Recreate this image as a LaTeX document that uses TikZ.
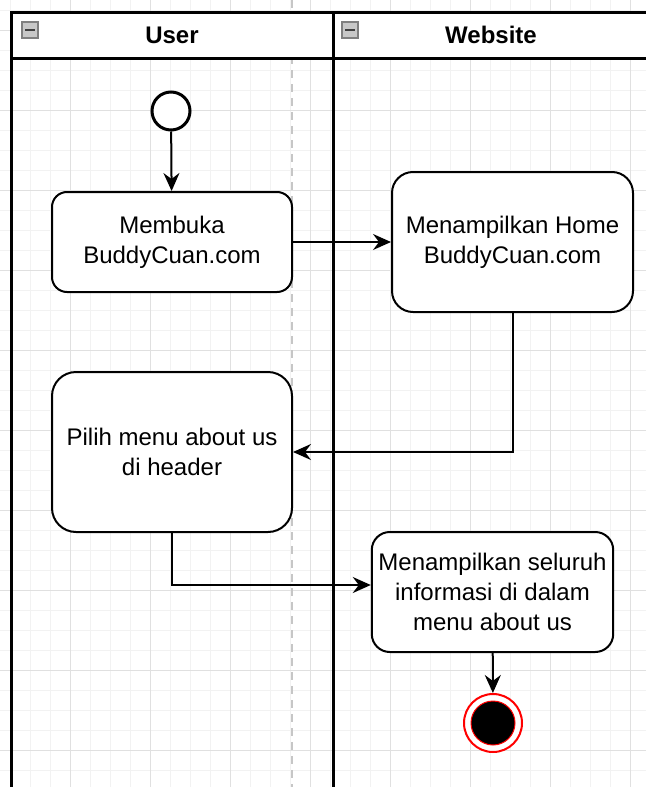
\documentclass[tikz,border=0pt]{standalone}
\usepackage{fontspec}
\setmainfont{Liberation Sans}
\usetikzlibrary{arrows.meta,shapes,positioning}

\definecolor{gridminor}{HTML}{F2F2F2}
\definecolor{gridmajor}{HTML}{E0E0E0}
\definecolor{minusgray}{HTML}{C8C8C8}

\begin{document}
\begin{tikzpicture}[x=0.5pt, y=-0.5pt, >={Stealth[length=9pt,width=8pt,inset=3pt]},
                    line width=1pt, font=\fontsize{12}{15}\selectfont]
  \tikzstyle{action}=[rectangle, draw=black, fill=white, text=black, align=center, line width=1pt]
  \tikzstyle{lane}=[draw=black, fill=white, line width=1.5pt]
  \tikzstyle{minus}=[rectangle, draw=gray, fill=minusgray, minimum size=8pt, inner sep=0pt]

	\clip (0,0) rectangle (646,787);

	% background grid
	\foreach \x in {10,30,...,650} \draw[gridminor, line width=0.5pt] (\x,0) -- (\x,787);
	\foreach \y in {10,30,...,790} \draw[gridminor, line width=0.5pt] (0,\y) -- (646,\y);
	\foreach \x in {70,150,...,630} \draw[gridmajor, line width=0.5pt] (\x,0) -- (\x,787);
	\foreach \y in {30,110,...,750} \draw[gridmajor, line width=0.5pt] (0,\y) -- (646,\y);
	\draw[gray!45, line width=1pt, dash pattern=on 4pt off 3pt] (292,0) -- (292,787);

	% swimlanes
	\draw[lane] (11,12) rectangle (333,58);
	\draw[lane] (333,12) rectangle (660,58);
	\draw[line width=1.5pt] (11,58) -- (11,800);
	\draw[line width=1.5pt] (333,58) -- (333,800);
	\node[font=\fontsize{12}{15}\selectfont\bfseries]	(user)	at (172,35)	{User};
	\node[font=\fontsize{12}{15}\selectfont\bfseries]	(web)	at (491,35)	{Website};
	\node[minus]	(m1)	at (30,30)	{};
	\node[minus]	(m2)	at (350,30)	{};
	\draw[black!75, line width=1pt] ([xshift=-2.5pt]m1.center) -- ([xshift=2.5pt]m1.center);
	\draw[black!75, line width=1pt] ([xshift=-2.5pt]m2.center) -- ([xshift=2.5pt]m2.center);

	% activities
	\node[circle, draw=black, fill=white, line width=1.5pt, minimum size=19pt]	(0)	at (171,111)	{};
	\node[action, rounded corners=7.5pt, minimum width=120pt, minimum height=50pt]	(1)	at (172,242)	{Membuka\\BuddyCuan.com};
	\node[action, rounded corners=10.5pt, minimum width=120.5pt, minimum height=70pt]	(2)	at (512.5,242)	{Menampilkan Home\\BuddyCuan.com};
	\node[action, rounded corners=12pt, minimum width=120pt, minimum height=80pt]	(3)	at (172,452)	{Pilih menu about us\\di header};
	\node[action, rounded corners=9pt, minimum width=120.5pt, minimum height=60pt]	(4)	at (492.5,592)	{Menampilkan seluruh\\informasi di dalam\\menu about us};
	\node[circle, draw=red, fill=white, line width=1pt, minimum size=29pt]	(5)	at (493,723)	{};
	\fill[black, draw=red, line width=0.5pt] (5.center) circle (11pt);

	\path[->]
    (0) edge [] (1)
    (1) edge [] (2);
	\draw[->] (2.south) |- (3.east);
	\draw[->] (3.south) |- ([yshift=3.5pt]4.west);
	\draw[->] (4) -- (5);

\end{tikzpicture}
\end{document}
